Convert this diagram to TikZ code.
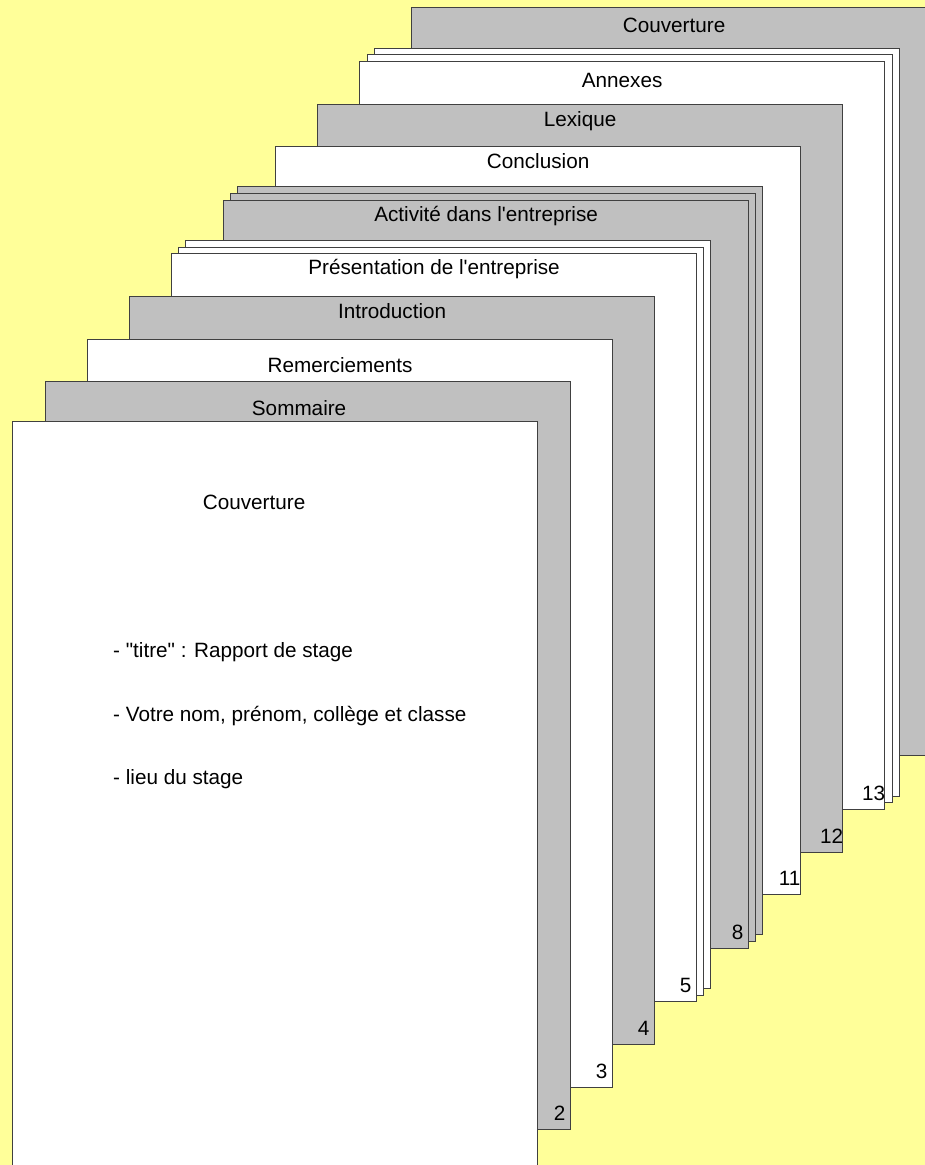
\documentclass[tikz,border=0pt]{standalone}
\usepackage{fontspec}
\setmainfont{Liberation Sans}
\usetikzlibrary{positioning}
\definecolor{fond}{HTML}{FFFF99}
\definecolor{gris}{HTML}{C0C0C0}

\begin{document}
\begin{tikzpicture}[x=1pt,y=-1pt,
    page/.style={rectangle,draw=black!75,line width=1.2pt,inner sep=0pt,
      minimum width=525pt,minimum height=748pt,anchor=north west},
    titre/.style={font=\fontsize{20.7}{24}\selectfont,inner sep=0pt},
    num/.style={font=\fontsize{20.7}{24}\selectfont,inner sep=0pt,anchor=base},
    ligne/.style={font=\fontsize{20.7}{24}\selectfont,inner sep=0pt,anchor=west}]

  \fill[fond] (0,0) rectangle (925,1165);
  \useasboundingbox (0,0) rectangle (925,1165);

  % feuilles, de la derniere a la premiere
  \foreach \i/\x/\y/\c in {1/411/7/gris, 2/374/48/white, 3/367/54/white,
      4/359/61/white, 5/317/104/gris, 6/275/146/white, 7/237/186/gris,
      8/230/193/gris, 9/223/200/gris, 10/185/240/white, 11/178/247/white,
      12/171/253/white, 13/129/296/gris, 14/87/339/white, 15/45/381/gris,
      16/12/421/white}
    \node[page,fill=\c] (p\i) at (\x,\y) {};

  % titres
  \foreach \i/\t/\dx/\dy in {1/Couverture/0/18, 4/Annexes/0/19,
      5/Lexique/0/17, 6/Conclusion/0/15,
      9/Activité dans l\textquotesingle entreprise/0/16,
      12/Présentation de l\textquotesingle entreprise/0/16, 13/Introduction/0/15,
      14/Remerciements/-10/26, 15/Sommaire/-9/27, 16/Couverture/-21/81}
    \node[titre] (t\i) at ([xshift=\dx pt,yshift=-\dy pt]p\i.north) {\t};

  % numeros de page
  \foreach \i/\n in {4/13, 5/12, 6/11, 9/8, 12/5, 13/4, 14/3, 15/2}
    \node[num] (n\i) at ([xshift=-11.5pt,yshift=10pt]p\i.south east) {\n};

  \node[ligne] (l1) at ([shift={(101,231)}]p16.north west)
    {- \textquotedbl titre\textquotedbl{} : Rapport de stage};
  \node[ligne] (l2) at ([shift={(101,295)}]p16.north west)
    {- Votre nom, prénom, collège et classe};
  \node[ligne] (l3) at ([shift={(101,358)}]p16.north west) {- lieu du stage};
\end{tikzpicture}
\end{document}
